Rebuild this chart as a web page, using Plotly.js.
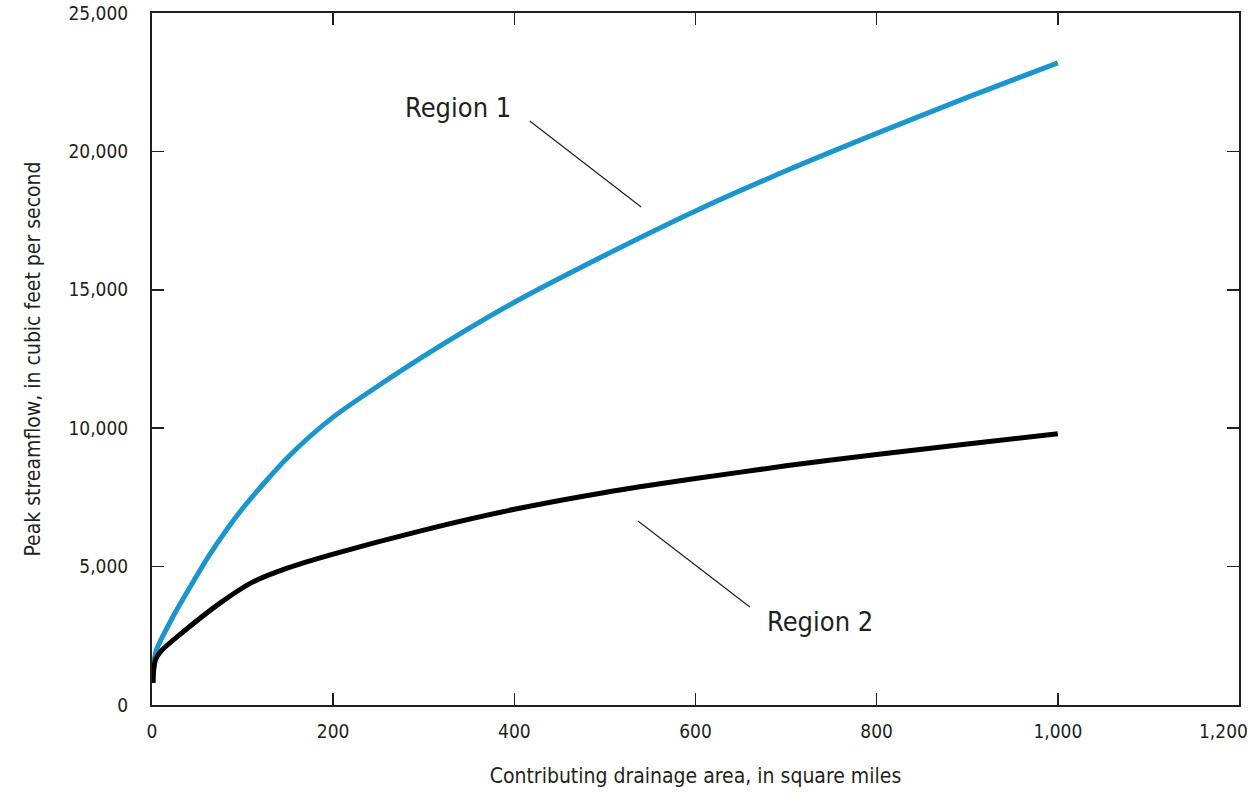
<!DOCTYPE html>
<html>
<head>
<meta charset="utf-8">
<script src="https://cdn.plot.ly/plotly-3.0.1.min.js"></script>
<style>html,body{margin:0;padding:0;background:#fff;}#chart{width:1254px;height:799px;}</style>
</head>
<body>
<div id="chart"></div>
<script>
const region1Area = [1, 2, 5, 23, 42, 64, 100, 150, 200, 300, 400, 500, 600, 700, 800, 900, 1000];
const region1Flow = [800, 1500, 2000, 3180, 4260, 5450, 7100, 8950, 10400, 12600, 14550, 16250, 17850, 19300, 20650, 21950, 23200];
const region2Area = [1, 2, 4, 10, 31, 75, 110, 150, 200, 300, 400, 500, 600, 700, 800, 900, 1000];
const region2Flow = [800, 1300, 1650, 1950, 2550, 3680, 4420, 4950, 5450, 6320, 7070, 7680, 8180, 8640, 9050, 9430, 9800];
const xTicks = [0, 200, 400, 600, 800, 1000, 1200];
const xTickText = ["0", "200", "400", "600", "800", "1,000", "1,200"];
const yTicks = [0, 5000, 10000, 15000, 20000, 25000];
const yTickText = ["0", "5,000", "10,000", "15,000", "20,000", "25,000"];

const FONT = '"Liberation Sans Narrow", "DejaVu Sans Condensed", Arial, sans-serif';

const traces = [
  {x: region1Area, y: region1Flow, mode: 'lines', line: {color: '#1b95cd', width: 5, shape: 'spline', smoothing: 0.7}, hoverinfo: 'skip'},
  {x: region2Area, y: region2Flow, mode: 'lines', line: {color: '#000000', width: 5, shape: 'spline', smoothing: 0.7}, hoverinfo: 'skip'}
];

// last x tick label is drawn as an annotation, right-aligned, so it stays inside the page
const shownXTickText = xTickText.map((t, i) => i === xTickText.length - 1 ? '' : t);

const layout = {
  width: 1254, height: 799,
  margin: {l: 152, r: 15, t: 13, b: 94},
  paper_bgcolor: '#fff', plot_bgcolor: '#fff',
  showlegend: false,
  font: {family: FONT, size: 19, color: '#231f20'},
  xaxis: {
    range: [0, 1200], tickvals: xTicks, ticktext: shownXTickText,
    ticks: 'inside', ticklen: 12, tickwidth: 1.5, tickcolor: '#231f20',
    showline: true, linecolor: '#231f20', linewidth: 2, mirror: 'allticks',
    showgrid: false, zeroline: false, ticklabelstandoff: 8,
    title: {text: 'Contributing drainage area, in square miles', font: {size: 21, family: FONT}, standoff: 28}
  },
  yaxis: {
    range: [0, 25000], tickvals: yTicks, ticktext: yTickText,
    ticks: 'inside', ticklen: 12, tickwidth: 1.5, tickcolor: '#231f20',
    showline: true, linecolor: '#231f20', linewidth: 2, mirror: 'allticks',
    showgrid: false, zeroline: false, ticklabelstandoff: 18,
    title: {text: 'Peak streamflow, in cubic feet per second', font: {size: 21, family: FONT}, standoff: 22}
  },
  shapes: [
    {type: 'line', xref: 'x', yref: 'y', x0: 417, y0: 21100, x1: 540, y1: 17990, line: {color: '#231f20', width: 1.2}},
    {type: 'line', xref: 'x', yref: 'y', x0: 536.5, y0: 6650, x1: 660, y1: 3540, line: {color: '#231f20', width: 1.2}}
  ],
  annotations: [
    {x: 338, y: 21570, xref: 'x', yref: 'y', text: 'Region 1', showarrow: false, font: {size: 27, family: FONT, color: '#231f20'}},
    {x: 737, y: 3000, xref: 'x', yref: 'y', text: 'Region 2', showarrow: false, font: {size: 27, family: FONT, color: '#231f20'}},
    {x: 1.01, y: 0, xref: 'paper', yref: 'paper', xanchor: 'right', yanchor: 'top', yshift: -13,
     text: xTickText[xTickText.length - 1], showarrow: false, font: {size: 19, family: FONT, color: '#231f20'}}
  ]
};

Plotly.newPlot('chart', traces, layout, {displayModeBar: false, staticPlot: true});
</script>
</body>
</html>
